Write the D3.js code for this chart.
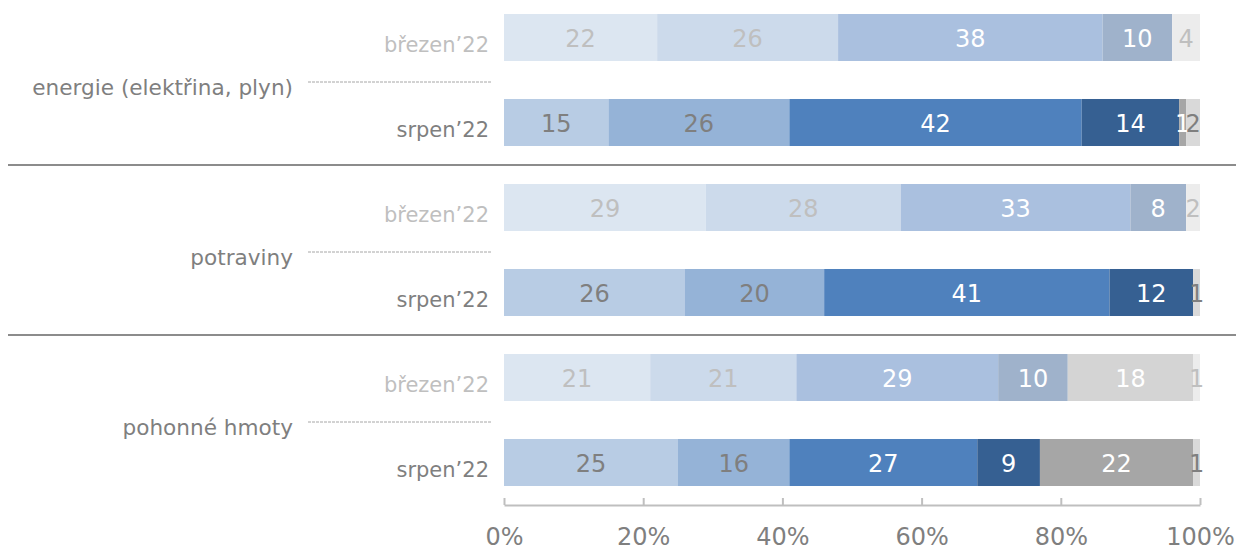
<!DOCTYPE html>
<html>
<head>
<meta charset="utf-8">
<script src="https://cdn.jsdelivr.net/npm/d3@7"></script>
<style>
html,body{margin:0;padding:0;background:#fff;}
svg{display:block;font-family:"DejaVu Sans",Verdana,sans-serif;}
</style>
</head>
<body>
<svg id="chart" width="1236" height="546"></svg>
<script>
// Data
const categories = ["energie (elektřina, plyn)", "potraviny", "pohonné hmoty"];
const periods = ["březen’22", "srpen’22"];
const s1 = [22, 15, 29, 26, 21, 25];
const s2 = [26, 26, 28, 20, 21, 16];
const s3 = [38, 42, 33, 41, 29, 27];
const s4 = [10, 14, 8, 12, 10, 9];
const s5 = [0, 1, 0, 0, 18, 22];
const s6 = [4, 2, 2, 1, 1, 1];
const tickValues = [0, 0.2, 0.4, 0.6, 0.8, 1];

const seriesList = [s1, s2, s3, s4, s5, s6];
const colorsNow = ["#b8cce4", "#95b3d7", "#4f81bd", "#366092", "#a6a6a6", "#d9d9d9"];
const colorsOld = ["#dce6f1", "#ccdaeb", "#aac0df", "#9fb2cb", "#d4d4d4", "#ececec"];
const labelNow = ["#7f7f7f", "#7f7f7f", "#ffffff", "#ffffff", "#ffffff", "#7f7f7f"];
const labelOld = ["#bfbfbf", "#bfbfbf", "#ffffff", "#ffffff", "#ffffff", "#bfbfbf"];

const rows = [];
categories.forEach((c, ci) => periods.forEach((p, pi) => rows.push({cat: c, ci, period: p, pi, key: ci + "-" + pi})));
rows.forEach((r, i) => {
  r.values = seriesList.map(s => s[i]);
});

const svg = d3.select("#chart");
const x = d3.scaleLinear().domain([0, 1]).range([504, 1200]);
const y = d3.scaleBand().domain(rows.map(r => r.key)).range([-5, 505])
  .paddingInner(0.447).paddingOuter(0.2235);

// bars
const rowG = svg.selectAll("g.row").data(rows).enter().append("g").attr("class", "row");
rowG.each(function(r) {
  const g = d3.select(this);
  let cum = 0;
  const segs = r.values.map((v, si) => {
    const s = {v, si, start: cum};
    cum += v;
    return s;
  });
  const old = r.pi === 0;
  g.selectAll("rect").data(segs.filter(s => s.v > 0)).enter().append("rect")
    .attr("x", s => x(s.start / 100))
    .attr("width", s => x((s.start + s.v) / 100) - x(s.start / 100))
    .attr("y", y(r.key))
    .attr("height", y.bandwidth())
    .attr("fill", s => (old ? colorsOld : colorsNow)[s.si]);
  g.selectAll("text").data(segs.filter(s => s.v > 0)).enter().append("text")
    .attr("x", s => x((s.start + s.v / 2) / 100))
    .attr("y", y(r.key) + y.bandwidth() / 2 + 0.6)
    .attr("dy", "0.35em")
    .attr("text-anchor", "middle")
    .attr("font-size", 24)
    .attr("fill", s => (old ? labelOld : labelNow)[s.si])
    .text(s => s.v);
  // period label
  g.append("text")
    .attr("x", 489)
    .attr("y", y(r.key) + y.bandwidth() / 2 + 7)
    .attr("dy", "0.35em")
    .attr("text-anchor", "end")
    .attr("font-size", 21)
    .attr("fill", old ? "#bfbfbf" : "#7f7f7f")
    .text(r.period);
});

// group labels + dashed lines + separators
categories.forEach((c, ci) => {
  const k0 = ci + "-0", k1 = ci + "-1";
  const mid = (y(k0) + y.bandwidth() + y(k1)) / 2;
  svg.append("line")
    .attr("x1", 308).attr("x2", 492)
    .attr("y1", mid + 2).attr("y2", mid + 2)
    .attr("stroke", "#a6a6a6").attr("stroke-width", 1)
    .attr("stroke-dasharray", "3,1");
  svg.append("text")
    .attr("x", 293)
    .attr("y", mid + 7)
    .attr("dy", "0.35em")
    .attr("text-anchor", "end")
    .attr("font-size", 21.6)
    .attr("fill", "#7f7f7f")
    .text(c);
  if (ci < categories.length - 1) {
    const kn = (ci + 1) + "-0";
    const sep = (y(k1) + y.bandwidth() + y(kn)) / 2;
    svg.append("line")
      .attr("x1", 8).attr("x2", 1236)
      .attr("y1", sep).attr("y2", sep)
      .attr("stroke", "#8c8c8c").attr("stroke-width", 2);
  }
});

// axis
const axis = d3.axisBottom(x).tickValues(tickValues).tickFormat(d3.format(".0%"))
  .tickSizeInner(-7).tickSizeOuter(0).tickPadding(23);
const ag = svg.append("g").attr("transform", "translate(0,505)").call(axis);
ag.select(".domain").attr("stroke", "#bfbfbf").attr("stroke-width", 2);
ag.selectAll(".tick line").attr("stroke", "#bfbfbf").attr("stroke-width", 2);
ag.selectAll(".tick text").attr("fill", "#7f7f7f").attr("font-size", 24)
  .attr("font-family", "DejaVu Sans, Verdana, sans-serif");
</script>
</body>
</html>
